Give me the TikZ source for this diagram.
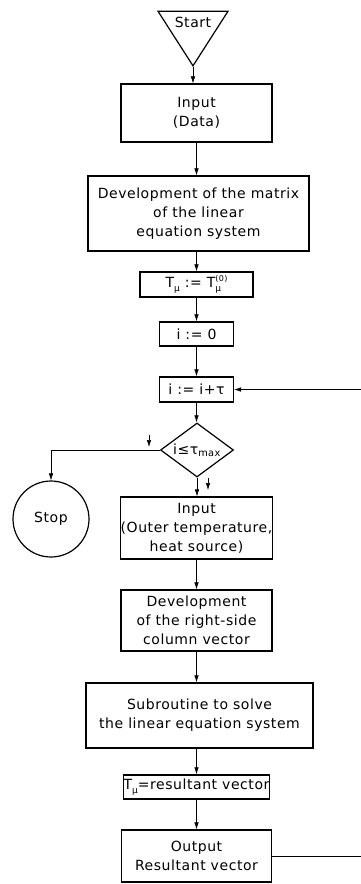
\documentclass[tikz,border=0pt]{standalone}
\usepackage{fontspec}
\setmainfont{DejaVu Sans}[LetterSpace=4.0]
\usetikzlibrary{arrows.meta,shapes.geometric}
\newcommand{\flowfont}{\fontsize{14}{19}\selectfont}
\newcommand{\subidx}[1]{\raisebox{-3.5pt}{\fontsize{9}{9}\selectfont #1}}
\newcommand{\supidx}[1]{\raisebox{6pt}{\fontsize{8}{8}\selectfont #1}}
\tikzset{
  term/.style={isosceles triangle, shape border rotate=270, isosceles triangle stretches, draw=black, line width=1.2pt, minimum width=70pt, minimum height=38pt, inner sep=0pt, font=\flowfont},
  proc/.style={rectangle, draw=black, line width=1.2pt, align=center, inner sep=0pt, font=\flowfont},
  decision/.style={diamond, aspect=1.35, draw=black, line width=1.2pt, inner sep=0pt, minimum width=73pt, minimum height=54pt, font=\flowfont},
  stopper/.style={circle, draw=black, line width=1.2pt, minimum size=76pt, inner sep=0pt, font=\flowfont},
  arrow/.style={-{Latex[length=7pt,width=4.5pt]}, line width=0.6pt},
  plain/.style={line width=0.6pt}
}
\begin{document}
\begin{tikzpicture}[x=1pt,y=-1pt]
  \useasboundingbox (0,0) rectangle (361,884);
  \node[term] (start) at (193,22) {Start};
  \node[proc, minimum width=151pt, minimum height=58pt] (indata) at (196.5,113) {Input\\(Data)};
  \node[proc, minimum width=221pt, minimum height=75pt] (devmat) at (198.5,213.5) {Development of the matrix\\of the linear\\equation system};
  \node[proc, minimum width=113pt, minimum height=25pt] (tinit) at (196.5,284.5) {T\subidx{μ} := T\rlap{\subidx{μ}}\supidx{(0)}};
  \node[proc, minimum width=74pt, minimum height=24pt] (izero) at (196.5,334) {i := 0};
  \node[proc, minimum width=74pt, minimum height=25pt] (istep) at (196.5,389.5) {i := i+τ};
  \node[decision] (test) at (197,450) {i≤τ\textsubscript{max}};
  \node[stopper] (stop) at (51,519) {Stop};
  \node[proc, minimum width=151pt, minimum height=62pt] (inouter) at (196.5,528) {Input\\(Outer temperature,\\heat source)};
  \node[proc, minimum width=151pt, minimum height=61pt] (devvec) at (196.5,620.5) {Development\\of the right-side\\column vector};
  \node[proc, minimum width=227pt, minimum height=65pt] (solve) at (199.5,715.5) {Subroutine to solve\\the linear equation system};
  \node[proc, minimum width=146pt, minimum height=24pt] (tres) at (196.5,787) {T\subidx{μ}=resultant vector};
  \node[proc, minimum width=150pt, minimum height=52pt] (output) at (196.5,856) {Output\\Resultant vector};
  \coordinate (loopin) at (361,389.5); \coordinate (loopout) at (361,856);
  \coordinate (marka) at (149,435); \coordinate (markb) at (149,447);
  \coordinate (markc) at (208,478); \coordinate (markd) at (208,490);
  \draw[arrow] (start.apex) -- (start.apex |- indata.north);
  \draw[arrow] (indata.south) -- (indata.south |- devmat.north);
  \draw[arrow] (indata.south |- devmat.south) -- (tinit.north);
  \draw[arrow] (tinit) -- (izero); \draw[arrow] (izero) -- (istep);
  \draw[arrow] (istep.south) -- (istep.south |- test.north);
  \draw[arrow] (test.west) -| (stop.north);
  \draw[arrow] (test.south) -- (test.south |- inouter.north);
  \draw[arrow] (inouter) -- (devvec);
  \draw[arrow] (devvec.south) -- (devvec.south |- solve.north);
  \draw[arrow] (devvec.south |- solve.south) -- (tres.north);
  \draw[arrow] (tres) -- (output);
  \draw[arrow] (loopin) -- (istep.east);
  \draw[plain] (output.east) -- (loopout);
  \draw[arrow] (marka) -- (markb); \draw[arrow] (markc) -- (markd);
\end{tikzpicture}
\end{document}
